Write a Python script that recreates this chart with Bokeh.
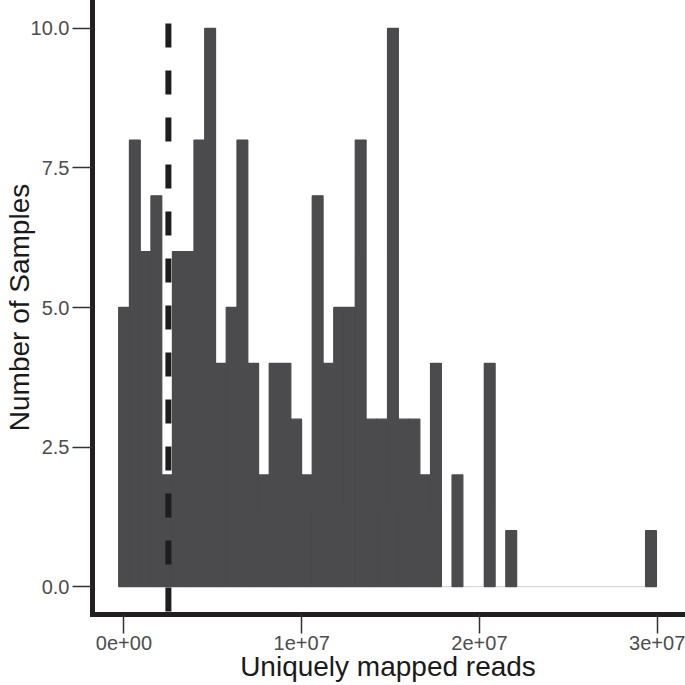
import numpy as np
from bokeh.plotting import figure
from bokeh.models import Range1d, FixedTicker, ColumnDataSource
from bokeh.embed import file_html
from bokeh.resources import INLINE

# ---- data ----
bin_first_edge = -2.95e5
bin_width = 6.05e5
counts = [5, 8, 6, 7, 2, 6, 6, 8, 10, 4,
          5, 8, 4, 2, 4, 4, 3, 2, 7, 4,
          5, 5, 8, 3, 3, 10, 3, 3, 2, 4,
          0, 2, 0, 0, 4, 0, 1, 0, 0, 0,
          0, 0, 0, 0, 0, 0, 0, 0, 0, 1]
threshold = 2.5e6
x_ticks = [0, 1e7, 2e7, 3e7]
x_tick_labels = ["0e+00", "1e+07", "2e+07", "3e+07"]
y_ticks = [0, 2.5, 5, 7.5, 10]
y_tick_labels = ["0.0", "2.5", "5.0", "7.5", "10.0"]
x_title = "Uniquely mapped reads"
y_title = "Number of Samples"

counts = np.array(counts)
edges = bin_first_edge + bin_width * np.arange(len(counts) + 1)
nz = counts > 0
src_nz = ColumnDataSource(dict(left=edges[:-1][nz], right=edges[1:][nz], top=counts[nz],
                               bottom=np.zeros(nz.sum())))
src_z = ColumnDataSource(dict(left=edges[:-1][~nz], right=edges[1:][~nz],
                              top=counts[~nz], bottom=np.zeros((~nz).sum())))

FONT = "Liberation Sans"
BAR = "#4b4b4d"

p = figure(width=685, height=685, output_backend="svg", toolbar_location=None,
           x_range=Range1d(-1.77e6, 3.148e7), y_range=Range1d(-0.5, 10.5),
           min_border_left=91, min_border_right=2, min_border_top=0, min_border_bottom=71)

p.quad(left="left", right="right", top="top", bottom="bottom", source=src_z,
       fill_alpha=0, line_color="#d6d6d6", line_width=1)
p.quad(left="left", right="right", top="top", bottom="bottom", source=src_nz,
       fill_color=BAR, line_color=BAR, line_width=1.3)

p.segment(x0=[threshold], y0=[p.y_range.start], x1=[threshold], y1=[p.y_range.end],
          line_color="#1e1c1d", line_width=6, line_dash="24 23", line_dash_offset=-3)

p.xgrid.visible = False
p.ygrid.visible = False
p.outline_line_color = None
p.background_fill_color = "white"
p.border_fill_color = "white"

p.xaxis.ticker = FixedTicker(ticks=x_ticks)
p.xaxis.major_label_overrides = dict(zip(x_ticks, x_tick_labels))
p.yaxis.ticker = FixedTicker(ticks=y_ticks)
p.yaxis.major_label_overrides = dict(zip(y_ticks, y_tick_labels))

p.xaxis.axis_label = x_title
p.yaxis.axis_label = y_title

for ax in (p.xaxis[0], p.yaxis[0]):
    ax.axis_line_width = 5
    ax.axis_line_color = "#231f20"
    ax.axis_line_cap = "square"
    ax.major_tick_line_color = "#333333"
    ax.major_tick_line_width = 1.5
    ax.major_tick_in = 0
    ax.minor_tick_line_color = None
    ax.major_label_text_font = FONT
    ax.major_label_text_font_size = "20px"
    ax.major_label_text_color = "#4d4d4d"
    ax.axis_label_text_font = FONT
    ax.axis_label_text_font_size = "28px"
    ax.axis_label_text_font_style = "normal"
    ax.axis_label_text_color = "#1a1a1a"

p.xaxis.major_tick_out = 19
p.xaxis.major_label_standoff = 2
p.xaxis.axis_label_standoff = -2
p.yaxis.major_tick_out = 20
p.yaxis.major_label_standoff = 3
p.yaxis.axis_label_standoff = -7

open("out.html", "w").write(file_html(p, INLINE))
